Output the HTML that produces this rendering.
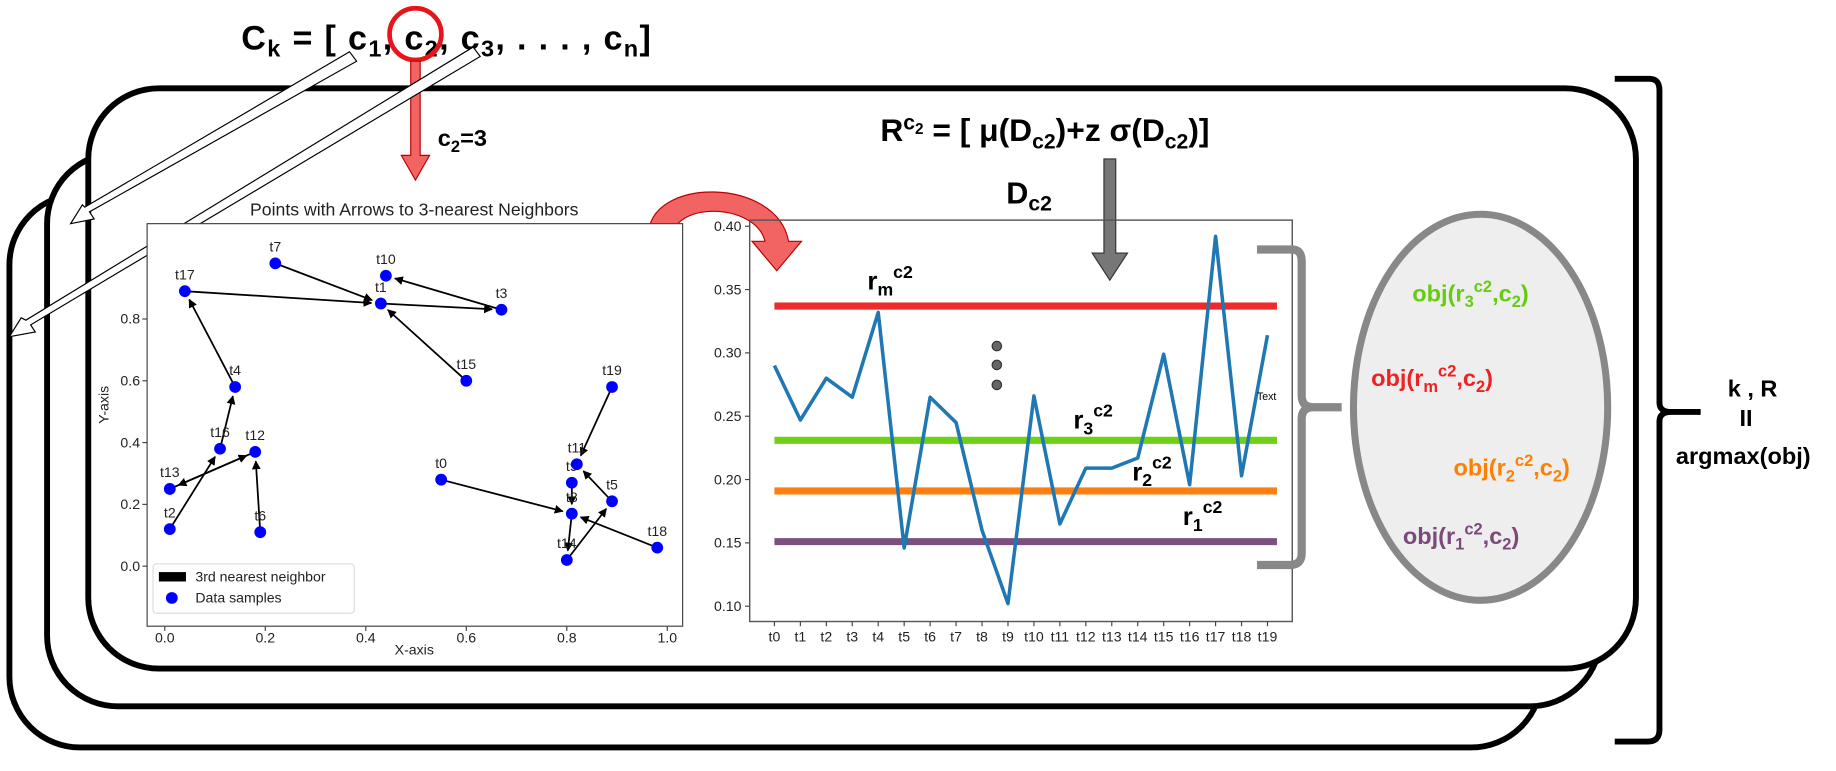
<!DOCTYPE html>
<html><head><meta charset="utf-8"><style>
html,body{margin:0;padding:0;background:#fff;}
svg{display:block;}
text{font-family:"Liberation Sans",sans-serif;}
.b{font-weight:bold;}
</style></head><body>
<svg id="s" width="1836" height="771" viewBox="0 0 1560 655" preserveAspectRatio="none" xmlns="http://www.w3.org/2000/svg">
<defs>
<marker id="ah" viewBox="0 0 10 10" refX="9" refY="5" markerWidth="5" markerHeight="5" orient="auto"><path d="M0,0 L10,5 L0,10 z" fill="#000"/></marker>
</defs>
<!-- stacked frames -->
<rect x="8" y="165" width="1302" height="470" rx="60" fill="#fff" stroke="#000" stroke-width="5"/>
<rect x="40" y="130" width="1320" height="470" rx="60" fill="#fff" stroke="#000" stroke-width="5"/>
<rect x="75" y="75" width="1315" height="493" rx="60" fill="#fff" stroke="#000" stroke-width="5"/>

<!-- top title -->
<text x="205" y="42" class="b" font-size="29" textLength="348" lengthAdjust="spacing">C<tspan font-size="20" dy="6">k</tspan><tspan dy="-6"> = [ c</tspan><tspan font-size="20" dy="6">1</tspan><tspan dy="-6">, c</tspan><tspan font-size="20" dy="6">2</tspan><tspan dy="-6">, c</tspan><tspan font-size="20" dy="6">3</tspan><tspan dy="-6">,  . . . , c</tspan><tspan font-size="20" dy="6">n</tspan><tspan dy="-6">]</tspan></text>
<circle cx="353" cy="29" r="22" fill="none" stroke="#e8141c" stroke-width="4"/>
<polygon points="349,52 357,52 357,132 365,132 353,153 341,132 349,132" fill="#f26464" stroke="#b00" stroke-width="1"/>
<text x="372" y="124" class="b" font-size="20">c<tspan font-size="14" dy="5">2</tspan><tspan dy="-5">=3</tspan></text>
<!-- white arrows -->
<g fill="#fff" stroke="#000" stroke-width="1">
<polygon points="297,44 303,52 76,180 80,186 60,190 70,174 72,176"/>
<polygon points="402,40 408,48 26,276 30,282 8,286 18,270 22,272"/>
</g>
<!-- formula -->
<text x="748" y="120" class="b" font-size="27">R<tspan font-size="18" dy="-10">c</tspan><tspan font-size="13" dy="4">2</tspan><tspan dy="6"> = [ μ(D</tspan><tspan font-size="18" dy="6">c2</tspan><tspan dy="-6">)+z σ(D</tspan><tspan font-size="18" dy="6">c2</tspan><tspan dy="-6">)]</tspan></text>
<text x="855" y="173" class="b" font-size="26">D<tspan font-size="18" dy="6">c2</tspan></text>
<polygon points="938,135 948,135 948,215 958,215 943,238 928,215 938,215" fill="#777" stroke="#333" stroke-width="1"/>
<!-- curved red arrow -->
<path d="M551,222 L551,200 C551,150 660,150 670,205 L681,205 L660,230 L639,205 L650,205 C642,172 570,170 570,205 L570,222 Z" fill="#f26464" stroke="#b00" stroke-width="1"/>

<!-- scatter chart -->
<g id="sc">
<text x="352" y="183" font-size="15" text-anchor="middle" fill="#222">Points with Arrows to 3-nearest Neighbors</text>
<rect x="125" y="190" width="455" height="342" fill="#fff" stroke="#444" stroke-width="1"/>
<text x="92" y="360" font-size="12" transform="rotate(-90 92 360)" fill="#222">Y-axis</text>
<text x="352" y="556" font-size="12" text-anchor="middle" fill="#222">X-axis</text>
</g>
<!-- line chart -->
<g id="lc">
<rect x="637" y="187" width="461" height="341" fill="none" stroke="#555" stroke-width="1.2"/>
</g>
<!-- labels for thresholds -->
<text x="737" y="246" class="b" font-size="22">r<tspan font-size="15" dy="5">m</tspan><tspan font-size="15" dy="-15">c2</tspan></text>
<text x="912" y="364" class="b" font-size="22">r<tspan font-size="15" dy="5">3</tspan><tspan font-size="15" dy="-15">c2</tspan></text>
<text x="962" y="408" class="b" font-size="22">r<tspan font-size="15" dy="5">2</tspan><tspan font-size="15" dy="-15">c2</tspan></text>
<text x="1005" y="446" class="b" font-size="22">r<tspan font-size="15" dy="5">1</tspan><tspan font-size="15" dy="-15">c2</tspan></text>
<g fill="#666" stroke="#333" stroke-width="1">
<circle cx="847" cy="294" r="4"/><circle cx="847" cy="310" r="4"/><circle cx="847" cy="327" r="4"/></g>
<text x="1068" y="340" font-size="9" fill="#000">Text</text>
<!-- gray bracket -->
<path d="M1068,212 L1098,212 Q1106,212 1106,222 L1106,336 Q1106,346 1116,346 L1140,346 M1116,346 Q1106,346 1106,356 L1106,470 Q1106,480 1096,480 L1068,480" fill="none" stroke="#888" stroke-width="7"/>
<ellipse cx="1258" cy="346" rx="108" ry="164" fill="#eee" stroke="#888" stroke-width="6"/>
<text x="1200" y="256" class="b" font-size="20" fill="#66cc11">obj(r<tspan font-size="14" dy="5">3</tspan><tspan font-size="14" dy="-13">c2</tspan><tspan dy="8">,c</tspan><tspan font-size="14" dy="5">2</tspan><tspan dy="-5">)</tspan></text>
<text x="1165" y="328" class="b" font-size="20" fill="#ee2222">obj(r<tspan font-size="14" dy="5">m</tspan><tspan font-size="14" dy="-13">c2</tspan><tspan dy="8">,c</tspan><tspan font-size="14" dy="5">2</tspan><tspan dy="-5">)</tspan></text>
<text x="1235" y="404" class="b" font-size="20" fill="#ff8000">obj(r<tspan font-size="14" dy="5">2</tspan><tspan font-size="14" dy="-13">c2</tspan><tspan dy="8">,c</tspan><tspan font-size="14" dy="5">2</tspan><tspan dy="-5">)</tspan></text>
<text x="1192" y="462" class="b" font-size="20" fill="#7a4a7a">obj(r<tspan font-size="14" dy="5">1</tspan><tspan font-size="14" dy="-13">c2</tspan><tspan dy="8">,c</tspan><tspan font-size="14" dy="5">2</tspan><tspan dy="-5">)</tspan></text>
<!-- black bracket -->
<path d="M1372,67 L1402,67 Q1410,67 1410,77 L1410,342 Q1410,350 1420,350 L1445,350 M1420,350 Q1410,350 1410,358 L1410,620 Q1410,630 1400,630 L1372,630" fill="none" stroke="#000" stroke-width="5"/>
<text x="1468" y="337" class="b" font-size="20">k , R</text>
<text x="1478" y="362" class="b" font-size="20">II</text>
<text x="1424" y="394" class="b" font-size="20">argmax(obj)</text>
</svg>
<script>
var NS='http://www.w3.org/2000/svg';
var ptLabels=['t0','t1','t2','t3','t4','t5','t6','t7','t8','t9','t10','t11','t12','t13','t14','t15','t16','t17','t18','t19'];
var ptX=[0.55,0.43,0.01,0.67,0.14,0.89,0.19,0.22,0.81,0.81,0.44,0.82,0.18,0.01,0.80,0.60,0.11,0.04,0.98,0.89];
var ptY=[0.28,0.85,0.12,0.83,0.58,0.21,0.11,0.98,0.17,0.27,0.94,0.33,0.37,0.25,0.02,0.60,0.38,0.89,0.06,0.58];
var arrowFrom=[7,17,1,3,15,4,16,2,13,12,6,0,19,5,9,8,14,18];
var arrowTo=[1,1,3,10,1,17,4,16,12,13,12,8,11,11,8,14,5,8];
var scXTicks=[0,0.2,0.4,0.6,0.8,1.0];
var scYTicks=[0,0.2,0.4,0.6,0.8];
var lineCats=['t0','t1','t2','t3','t4','t5','t6','t7','t8','t9','t10','t11','t12','t13','t14','t15','t16','t17','t18','t19'];
var lineVals=[0.290,0.247,0.280,0.265,0.332,0.146,0.265,0.245,0.160,0.102,0.266,0.165,0.209,0.209,0.217,0.299,0.196,0.392,0.203,0.314];
var thrVals=[0.337,0.231,0.191,0.151];
var thrColors=['#ee2a2a','#6fd116','#ff7f0e','#7b4f80'];
var thrNames=['rm-line','r3-line','r2-line','r1-line'];
var lineYTicks=[0.10,0.15,0.20,0.25,0.30,0.35,0.40];

function mk(tag,attrs,parent){var e=document.createElementNS(NS,tag);for(var k in attrs)e.setAttribute(k,attrs[k]);parent.appendChild(e);return e;}
var sc=document.getElementById('sc'), lc=document.getElementById('lc');
function sx(v){return 140+v*427;}
function sy(v){return 481-v*262.5;}
scXTicks.forEach(function(t){
  mk('line',{x1:sx(t),x2:sx(t),y1:532,y2:536,stroke:'#444'},sc);
  var e=mk('text',{x:sx(t),y:546,'font-size':12,'text-anchor':'middle',fill:'#222'},sc);e.textContent=t.toFixed(1);
  
  
});
scYTicks.forEach(function(t){
  mk('line',{x1:121,x2:125,y1:sy(t),y2:sy(t),stroke:'#444'},sc);
  var e=mk('text',{x:119,y:sy(t)+4,'font-size':12,'text-anchor':'end',fill:'#222'},sc);e.textContent=t.toFixed(1);
  
  
});
arrowFrom.forEach(function(f,i){
  var t=arrowTo[i];var x1=sx(ptX[f]),y1=sy(ptY[f]),x2=sx(ptX[t]),y2=sy(ptY[t]);
  var dx=x2-x1,dy=y2-y1,d=Math.sqrt(dx*dx+dy*dy)||1;
  var a=mk('line',{x1:x1,y1:y1,x2:x2-dx/d*8,y2:y2-dy/d*8,stroke:'#000','stroke-width':1.5,'marker-end':'url(#ah)'},sc);
  
  
});
ptX.forEach(function(x,i){
  var c=mk('circle',{cx:sx(x),cy:sy(ptY[i]),r:5,fill:'#0000ff'},sc);
  
  
  var l=mk('text',{x:sx(x),y:sy(ptY[i])-10,'font-size':12,'text-anchor':'middle',fill:'#222'},sc);l.textContent=ptLabels[i];
  
  
});
var lg=mk('g',{},sc);


mk('rect',{x:130,y:479,width:171,height:42,rx:3,fill:'#fff',stroke:'#ddd'},lg);
mk('rect',{x:135,y:486,width:23,height:8,fill:'#000'},lg);
var t1=mk('text',{x:166,y:494,'font-size':12,fill:'#222'},lg);t1.textContent='3rd nearest neighbor';
mk('circle',{cx:146,cy:508,r:5,fill:'#0000ff'},lg);
var t2=mk('text',{x:166,y:512,'font-size':12,fill:'#222'},lg);t2.textContent='Data samples';

function lx(i){return 658+i*22.05;}
function ly(v){return 515-(v-0.10)*1076;}
lineYTicks.forEach(function(t){
  mk('line',{x1:633,x2:637,y1:ly(t),y2:ly(t),stroke:'#444'},lc);
  var e=mk('text',{x:630,y:ly(t)+4,'font-size':12,'text-anchor':'end',fill:'#222'},lc);e.textContent=t.toFixed(2);
  
  
});
lineCats.forEach(function(c,i){
  mk('line',{x1:lx(i),x2:lx(i),y1:528,y2:532,stroke:'#444'},lc);
  var e=mk('text',{x:lx(i),y:545,'font-size':12,'text-anchor':'middle',fill:'#222'},lc);e.textContent=c;
  
  
});
thrVals.forEach(function(v,i){
  var l=mk('line',{x1:658,x2:1085,y1:ly(v),y2:ly(v),stroke:thrColors[i],'stroke-width':6},lc);
  
  
});
var pts=lineVals.map(function(v,i){return lx(i)+','+ly(v);}).join(' ');
var pl=mk('polyline',{points:pts,fill:'none',stroke:'#1f77b4','stroke-width':3,'stroke-linejoin':'round'},lc);


</script>
</body></html>
